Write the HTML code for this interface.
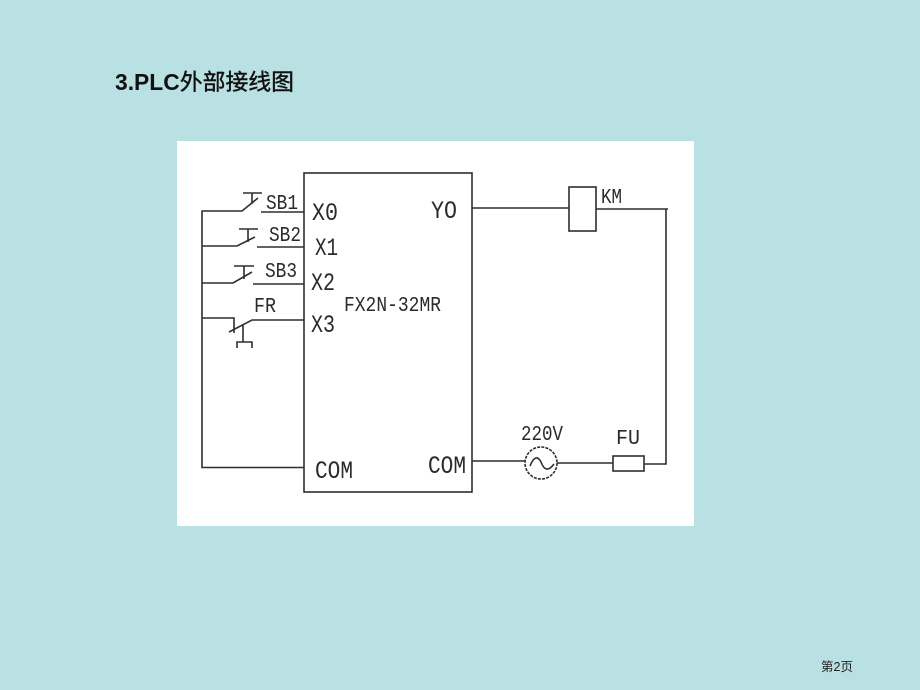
<!DOCTYPE html>
<html>
<head>
<meta charset="utf-8">
<style>
html,body{margin:0;padding:0;width:920px;height:690px;overflow:hidden;background:#b9e0e2}
svg{position:absolute;left:0;top:0}
.l{font-family:"Liberation Mono","DejaVu Sans Mono",monospace;font-size:25px;fill:#2a2a2a}
.s{font-family:"Liberation Mono","DejaVu Sans Mono",monospace;font-size:21px;fill:#2a2a2a}
</style>
</head>
<body>
<svg width="920" height="690" viewBox="0 0 920 690" xmlns="http://www.w3.org/2000/svg">
<rect width="920" height="690" fill="#b9e0e2"/>
<text x="115" y="90" font-family="'Liberation Sans','Noto Sans CJK SC',sans-serif" font-size="22.85" font-weight="bold" fill="#111">3.PLC<tspan font-weight="normal" stroke="#111" stroke-width="0.4">外部接线图</tspan></text>
<text x="821" y="671" font-family="'Liberation Sans','Noto Sans CJK SC',sans-serif" font-size="12.5" fill="#222">第2页</text>
<rect x="177" y="141" width="517" height="385" fill="#fff"/>
<g fill="none" stroke="#2e2e2e" stroke-width="1.6">
<rect x="304" y="173" width="168" height="319"/>
<path d="M304 467.5H202V211H242L258 198M252 193V204M243 193H262M261 212H304"/>
<path d="M202 246H237L255 237M248 229V242M239 229H258M257 247H304"/>
<path d="M202 283H233L252 272M244 266V279M234 266H254M253 284H304"/>
<path d="M202 318H234V333M229 332L252 320H304M243 325V342M237 348V342H252V348"/>
<path d="M472 208H569M596 209H668M666 209V464H644M472 461H525M557 463H613"/>
<rect x="569" y="187" width="27" height="44" fill="#fff"/>
<rect x="613" y="456" width="31" height="15" fill="#fff"/>
<circle cx="541" cy="463" r="16" stroke-dasharray="3 1.2"/>
<path d="M530 466C534 456 538 456 541 462C544 470 548 472 554 464"/>
</g>
<g>
<text class="s" x="266" y="209" textLength="32" lengthAdjust="spacingAndGlyphs">SB1</text>
<text class="s" x="269" y="241" textLength="32" lengthAdjust="spacingAndGlyphs">SB2</text>
<text class="s" x="265" y="277" textLength="32" lengthAdjust="spacingAndGlyphs">SB3</text>
<text class="s" x="254" y="312" textLength="22" lengthAdjust="spacingAndGlyphs">FR</text>
<text class="s" x="344" y="311" textLength="97" lengthAdjust="spacingAndGlyphs">FX2N-32MR</text>
<text class="s" x="601" y="203" textLength="21" lengthAdjust="spacingAndGlyphs">KM</text>
<text class="l" x="312" y="220" textLength="26" lengthAdjust="spacingAndGlyphs">X0</text>
<text class="l" x="315" y="255" textLength="23" lengthAdjust="spacingAndGlyphs">X1</text>
<text class="l" x="311" y="290" textLength="24" lengthAdjust="spacingAndGlyphs">X2</text>
<text class="l" x="311" y="332" textLength="24" lengthAdjust="spacingAndGlyphs">X3</text>
<text class="l" x="431" y="218" textLength="26" lengthAdjust="spacingAndGlyphs">YO</text>
<text class="l" x="315" y="478" textLength="38" lengthAdjust="spacingAndGlyphs">COM</text>
<text class="l" x="428" y="473" textLength="38" lengthAdjust="spacingAndGlyphs">COM</text>
<text class="s" x="521" y="440" textLength="42" lengthAdjust="spacingAndGlyphs">220V</text>
<text class="s" x="616" y="444" textLength="24" lengthAdjust="spacingAndGlyphs">FU</text>
</g>
</svg>
</body>
</html>
